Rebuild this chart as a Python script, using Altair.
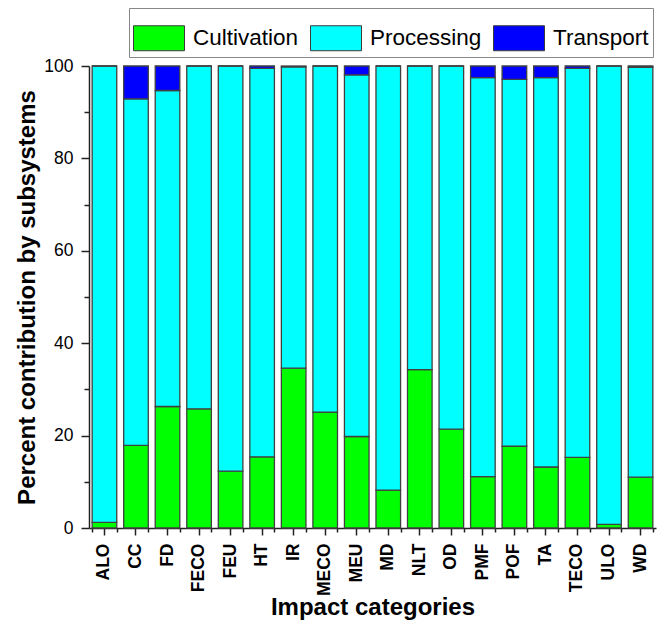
import altair as alt
import pandas as pd

categories = ["ALO", "CC", "FD", "FECO", "FEU", "HT", "IR", "MECO", "MEU",
              "MD", "NLT", "OD", "PMF", "POF", "TA", "TECO", "ULO", "WD"]
cultivation = [1.2, 17.9, 26.3, 25.8, 12.3, 15.4, 34.6, 25.1, 19.8,
               8.2, 34.3, 21.4, 11.1, 17.7, 13.2, 15.3, 0.8, 11.0]
processing = [98.8, 75.0, 68.4, 74.2, 87.7, 84.1, 65.2, 74.9, 78.3,
              91.8, 65.7, 78.6, 86.4, 79.4, 84.3, 84.2, 99.2, 88.7]
transport = [0.0, 7.1, 5.3, 0.0, 0.0, 0.5, 0.2, 0.0, 1.9,
             0.0, 0.0, 0.0, 2.5, 2.9, 2.5, 0.5, 0.0, 0.3]
subsystems = ["Cultivation", "Processing", "Transport"]
colors = ["#00FF00", "#00FFFF", "#0000FF"]
y_major = [0, 20, 40, 60, 80, 100]
y_minor = [10, 30, 50, 70, 90]

rows = []
for i, c in enumerate(categories):
    for j, (s, vals) in enumerate(zip(subsystems, [cultivation, processing, transport])):
        rows.append({"category": c, "subsystem": s, "value": vals[i], "order": j})
df = pd.DataFrame(rows)

FONT = "Liberation Sans"
x_scale = alt.Scale(domain=categories, paddingInner=0.22, paddingOuter=0.1)
y_scale = alt.Scale(domain=[0, 100], nice=False, zero=True)

bars = alt.Chart(df).mark_bar(stroke="#404040", strokeWidth=1.3).encode(
    x=alt.X("category:N", scale=x_scale, sort=categories,
            axis=alt.Axis(orient="bottom", title="Impact categories", labelAngle=-90,
                          labelFontWeight="bold", labelFontSize=17.5, labelPadding=8,
                          tickSize=7, tickWidth=1.5, domainWidth=1.5,
                          titleFontSize=24, titleFontWeight="bold",
                          titleY=86, titleBaseline="alphabetic")),
    y=alt.Y("value:Q", stack="zero", scale=y_scale,
            axis=alt.Axis(orient="left", title="Percent contribution by subsystems",
                          values=y_major, labelFontSize=17.5, labelPadding=8,
                          tickSize=8, tickWidth=1.5, domainWidth=1.5, grid=False,
                          titleFontSize=24, titleFontWeight="bold", titlePadding=4)),
    color=alt.Color("subsystem:N", scale=alt.Scale(domain=subsystems, range=colors),
                    legend=alt.Legend(title=None, orient="none", legendX=40, legendY=-58,
                                      direction="horizontal",
                                      symbolType="M-1,-0.49L1,-0.49L1,0.49L-1,0.49Z",
                                      symbolSize=2601, symbolStrokeColor="#3a3a3a",
                                      symbolStrokeWidth=1, symbolOpacity=1,
                                      labelFontSize=22.5, labelFont=FONT, labelColor="black",
                                      labelOffset=8, columnPadding=9, padding=4,
                                      strokeColor="#888888", fillColor="white")),
    order=alt.Order("order:Q"),
)

minor = alt.Chart(df).mark_bar(opacity=0).encode(
    x=alt.X("category:N", scale=x_scale, sort=categories,
            axis=alt.Axis(orient="bottom", tickBand="extent", labels=False, title=None,
                          domain=False, tickSize=4, tickWidth=1.5)),
    y=alt.Y("value:Q", stack="zero", scale=y_scale,
            axis=alt.Axis(orient="left", values=y_minor, labels=False, title=None,
                          domain=False, tickSize=5, tickWidth=1.5, grid=False)),
)

chart = alt.layer(bars, minor).resolve_axis(
    x="independent", y="independent"
).properties(
    width=567, height=462,
    padding={"left": 81, "top": 58, "right": 2, "bottom": 92},
    autosize="none",
).configure_view(stroke=None).configure_axis(
    labelFont=FONT, titleFont=FONT, labelColor="black", titleColor="black",
    domainColor="#222222", tickColor="#222222",
).configure_legend(labelFont=FONT)

chart.save("out.html", embed_options={"renderer": "svg", "actions": False})
